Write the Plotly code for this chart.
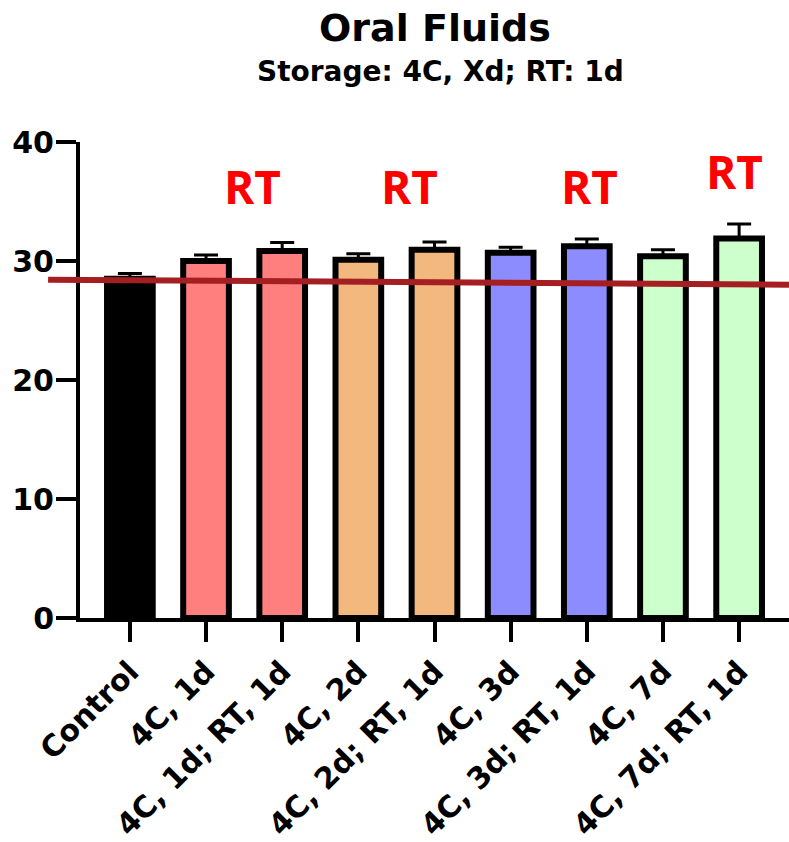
import plotly.graph_objects as go

categories = ["Control", "4C, 1d", "4C, 1d; RT, 1d", "4C, 2d", "4C, 2d; RT, 1d",
              "4C, 3d", "4C, 3d; RT, 1d", "4C, 7d", "4C, 7d; RT, 1d"]
values = [28.5, 30.0, 30.85, 30.1, 30.95, 30.7, 31.25, 30.4, 31.9]
errors = [0.45, 0.5, 0.7, 0.5, 0.65, 0.45, 0.6, 0.55, 1.2]
colors = ["#000000", "#FF7F7F", "#FF7F7F", "#F2B87E", "#F2B87E",
          "#8C8CFF", "#8C8CFF", "#CCFFCC", "#CCFFCC"]
y_ticks = [0, 10, 20, 30, 40]
rt_x = [1.61, 3.67, 6.04, 7.94]
rt_y = [36.3, 36.3, 36.3, 37.6]
ref_line = [28.43, 28.01]

FONT = "DejaVu Sans"
x = list(range(len(categories)))

fig = go.Figure()
fig.add_trace(go.Bar(
    x=x, y=values, width=0.6,
    marker=dict(color=colors, line=dict(color="black", width=6)),
    error_y=dict(type="data", symmetric=False, array=errors,
                 arrayminus=[0] * len(errors), color="black",
                 thickness=3, width=12),
    showlegend=False,
))

for xx, yy in zip(rt_x, rt_y):
    fig.add_annotation(x=xx, y=yy, text="RT", showarrow=False,
                       font=dict(family="Open Sans", size=46, color="#FF0000", weight="bold"),
                       xanchor="center", yanchor="middle")

fig.add_shape(type="line", xref="paper", yref="y", x0=-0.045, x1=1.0,
              y0=ref_line[0], y1=ref_line[1],
              line=dict(color="#A51E22", width=6), layer="above")

fig.add_annotation(xref="paper", yref="paper", x=0.5007, y=1.24,
                   text="Oral Fluids", showarrow=False,
                   font=dict(family=FONT, size=38, color="black", weight="bold"),
                   xanchor="center", yanchor="middle")
fig.add_annotation(xref="paper", yref="paper", x=0.508, y=1.148,
                   text="Storage: 4C, Xd; RT: 1d", showarrow=False,
                   font=dict(family=FONT, size=28, color="black", weight="bold"),
                   xanchor="center", yanchor="middle")

fig.update_layout(
    width=789, height=842,
    margin=dict(l=80, r=0, t=142, b=224),
    paper_bgcolor="white", plot_bgcolor="white",
    xaxis=dict(range=[-0.655, 8.655], tickmode="array", tickvals=x,
               ticktext=categories, tickangle=-45,
               ticks="outside", ticklen=20, tickwidth=4, tickcolor="black",
               showline=True, linewidth=4, linecolor="black",
               showgrid=False, zeroline=False,
               tickfont=dict(family=FONT, size=30, color="black", weight="bold")),
    yaxis=dict(range=[0, 40], tickmode="array", tickvals=y_ticks,
               ticks="outside", ticklen=20, tickwidth=4, tickcolor="black",
               showline=True, linewidth=4, linecolor="black",
               showgrid=False, zeroline=False, ticklabelstandoff=-4,
               tickfont=dict(family=FONT, size=30, color="black", weight="bold")),
)

fig.write_html("out.html")
